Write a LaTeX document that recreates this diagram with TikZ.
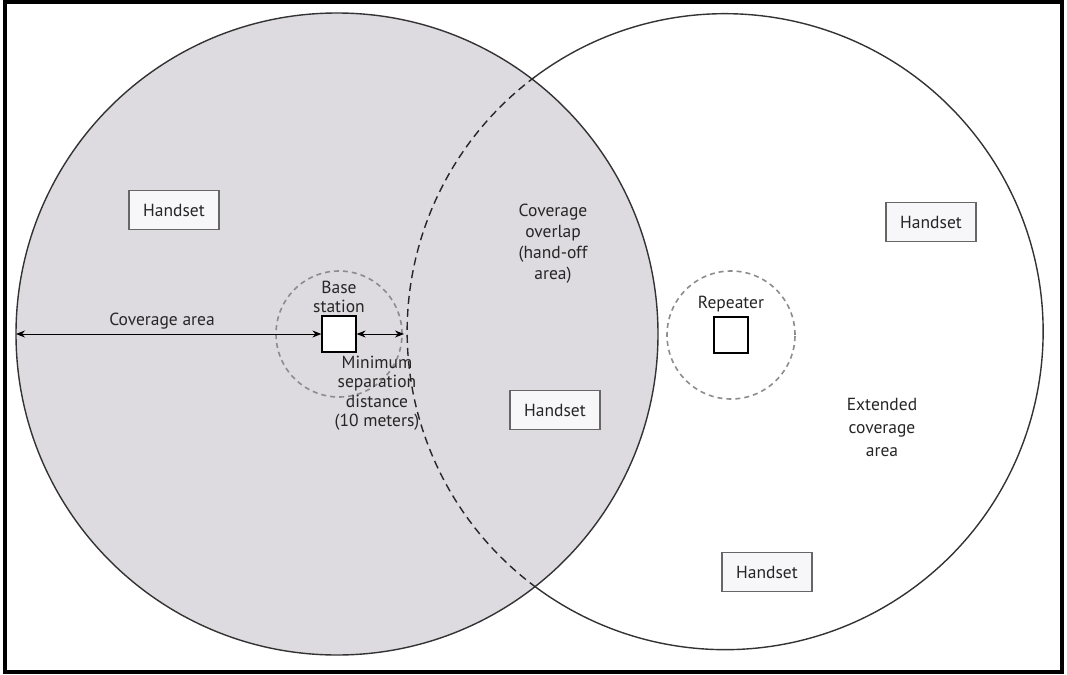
\documentclass[tikz,border=0pt]{standalone}
\usepackage{fontspec}
\setmainfont{PT Sans}
\usetikzlibrary{arrows.meta,positioning}
\definecolor{covgray}{RGB}{221,218,224}
\definecolor{hsfill}{RGB}{247,246,249}

\begin{document}
\begin{tikzpicture}[x=1pt,y=-1pt,
	hs/.style={draw=black!60,fill=hsfill,line width=1.2pt,minimum width=90pt,minimum height=39pt,inner sep=0,text=black!85,font=\fontsize{17.5}{19}\selectfont},
	box/.style={draw,fill=white,line width=1.2pt,minimum width=34pt,minimum height=36pt,inner sep=0},
	txt/.style={align=center,inner sep=1pt,text=black!85,font=\fontsize{17.5}{19.5}\selectfont},
	ring/.style={draw=black!45,dash pattern=on 5pt off 4pt,line width=1.6pt},
	dim/.style={line width=1pt,{Stealth[length=9pt,width=7pt]}-{Stealth[length=9pt,width=7pt]}}]
	\useasboundingbox (0,0) rectangle (1067,674);
	\draw[line width=3.5pt] (5,1.8) rectangle (1062,672.2);
	% the two coverage circles
	\node[circle,minimum size=642pt,inner sep=0,outer sep=0,fill=covgray,draw=black!80,line width=1.4pt] (cov) at (337,334) {};
	\node[circle,minimum size=636pt,inner sep=0,outer sep=0] (ext) at (722,334) {};
	\draw[black!80,line width=1.4pt] (ext.126.7) arc[start angle=126.7,end angle=-126.7,radius=318pt];
	\draw[black!85,line width=1.4pt,dash pattern=on 8pt off 5pt] (ext.126.7) arc[start angle=126.7,end angle=233.3,radius=318pt];
	% base station and repeater
	\node[box] (bs) at (339,334) {};
	\node[txt,above=1pt of bs] (bsl) {Base\\station};
	\draw[ring] (bs) circle (63pt);
	\node[box] (rp) at (731,335) {};
	\node[txt,above=3pt of rp] (rpl) {Repeater};
	\draw[ring] (rp) circle (64pt);
	% distances
	\draw[dim] (cov.west) -- (bs.west);
	\node[txt] (cal) at (162,321) {Coverage area};
	\draw[dim] (bs.east) -- (ext.west);
	\node[txt] (msd) at (377,393) {Minimum\\separation\\distance\\(10 meters)};
	% area labels
	\node[txt,font=\fontsize{17.5}{21}\selectfont] (ovl) at (553,244) {Coverage\\overlap\\(hand-off\\area)};
	\node[txt,font=\fontsize{17.5}{23}\selectfont] (eca) at (882,427) {Extended\\coverage\\area};
	% handsets
	\node[hs] (h1) at (174,210) {Handset};
	\node[hs] (h2) at (555,410) {Handset};
	\node[hs] (h3) at (931,222) {Handset};
	\node[hs] (h4) at (767,572) {Handset};
\end{tikzpicture}
\end{document}
